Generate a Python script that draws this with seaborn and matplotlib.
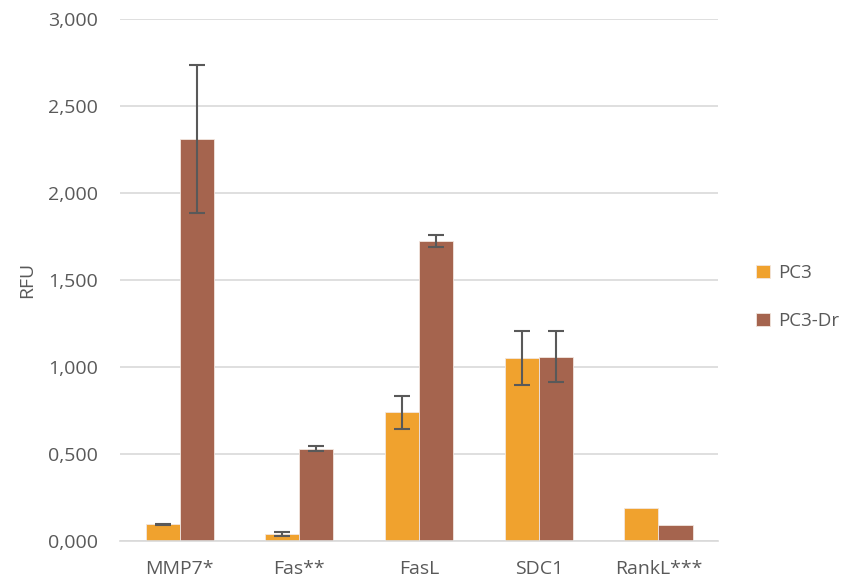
import numpy as np
import pandas as pd
import matplotlib
matplotlib.use("Agg")
import matplotlib.pyplot as plt
import seaborn as sns
from matplotlib.ticker import FuncFormatter

sns.set_theme(style="white")
plt.rcParams['font.family'] = ['Open Sans', 'DejaVu Sans']

genes = ["MMP7*", "Fas**", "FasL", "SDC1", "RankL***"]
series = ["PC3", "PC3-Dr"]
pc3_vals = [97, 42, 740, 1052, 190]
pc3dr_vals = [2310, 531, 1724, 1059, 90]
pc3_err = [3, 11, 95, 155, 0]
pc3dr_err = [427, 12, 36, 147, 0]
colors = {"PC3": "#F0A22E", "PC3-Dr": "#A5644E"}

df = pd.DataFrame({
    "gene": genes * 2,
    "line": ["PC3"] * len(genes) + ["PC3-Dr"] * len(genes),
    "rfu": pc3_vals + pc3dr_vals,
    "err": pc3_err + pc3dr_err,
})

fig = plt.figure(figsize=(8.5, 5.88), dpi=100)
ax = fig.add_axes([0.141, 0.080, 0.704, 0.888])

sns.barplot(data=df, x="gene", y="rfu", hue="line", order=genes,
            hue_order=series, palette=colors, width=0.57, errorbar=None,
            edgecolor="#F2E6DF", linewidth=0.6, saturation=1, ax=ax)

# error bars at bar centres
for cont, name in zip(ax.containers, series):
    errs = df[df["line"] == name].set_index("gene").loc[genes, "err"].values
    xs = [p.get_x() + p.get_width() / 2 for p in cont.patches]
    hs = [p.get_height() for p in cont.patches]
    for x, h, e in zip(xs, hs, errs):
        if e > 0:
            ax.errorbar(x, h, yerr=e, fmt="none", ecolor="#595959",
                        elinewidth=1.5, capsize=6, capthick=1.5, zorder=5)

ax.set_ylim(0, 3000)
ax.set_xlim(-0.5, 4.5)
ax.set_yticks(np.arange(0, 3001, 500))
ax.yaxis.set_major_formatter(FuncFormatter(lambda v, p: f"{v/1000:.3f}".replace(".", ",")))
ax.grid(axis="y", color="#D9D9D9", linewidth=1.2)
ax.set_axisbelow(True)
for s in ["top", "right", "left"]:
    ax.spines[s].set_visible(False)
ax.spines["bottom"].set_color("#D9D9D9")
ax.spines["bottom"].set_linewidth(1.2)
ax.tick_params(axis="both", length=0, colors="#595959", labelsize=14)
ax.tick_params(axis="y", pad=16)
ax.tick_params(axis="x", pad=14)
ax.set_xlabel("")
ax.set_ylabel("RFU", color="#595959", fontsize=14, labelpad=8)

handles, labels = ax.get_legend_handles_labels()
ax.legend(handles, labels, loc="center left", bbox_to_anchor=(1.035, 0.467),
          frameon=False, fontsize=13.5, labelcolor="#595959",
          handlelength=0.75, handleheight=0.75, handletextpad=0.45,
          labelspacing=1.6)

fig.savefig("out.png", dpi=100)
